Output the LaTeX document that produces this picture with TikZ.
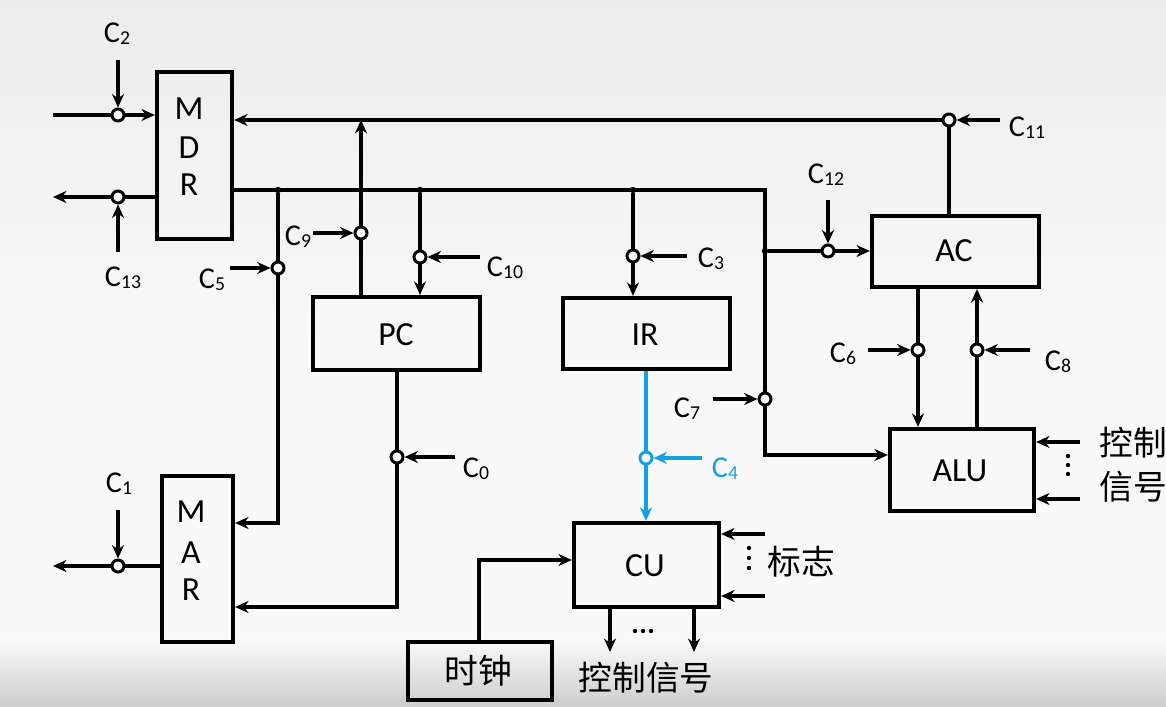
\documentclass[tikz,border=0pt]{standalone}
\usepackage{fontspec}
\setmainfont{Carlito}
\newfontfamily\cjk{Noto Sans CJK SC}
\usetikzlibrary{arrows.meta}
\definecolor{bgtop}{RGB}{236,236,236}
\definecolor{bgmid}{RGB}{249,249,249}
\definecolor{bgbot}{RGB}{205,205,205}
\definecolor{sigblue}{RGB}{20,160,228}
\newcommand\Csub[1]{C\raisebox{-1.5pt}{\fontsize{14}{14}\selectfont #1}}
\tikzset{
  wire/.style={line width=2.6pt},
  arr/.style={wire,-{Stealth[length=9.5pt,width=8.5pt,inset=3pt]}},
  box/.style={draw,line width=3pt,inner sep=0pt},
  sw/.style={circle,draw,fill=white,line width=2.1pt,inner sep=0pt,minimum size=0.3cm},
  jdot/.style={circle,fill,inner sep=0pt,minimum size=0.16cm},
  lbl/.style={inner sep=0pt,font=\fontsize{21.5}{24}\selectfont},
  btxt/.style={inner sep=0pt,font=\fontsize{24}{27}\selectfont},
  cn/.style={inner sep=0pt,font=\cjk\fontsize{24}{28}\selectfont},
  vdot/.style={circle,fill,inner sep=0pt,minimum size=0.11cm},
}
\begin{document}
\begin{tikzpicture}[x=0.025cm,y=-0.025cm]
\useasboundingbox (0,0) rectangle (1166,707);
\shade[top color=bgtop,bottom color=bgmid] (0,0) rectangle (1166,350);
\fill[bgmid] (0,350) rectangle (1166,641);
\shade[top color=bgmid,bottom color=bgbot] (0,640) rectangle (1166,707);

% boxes
\node[box,minimum width=1.875cm,minimum height=4.175cm] (MDR) at (194.5,155.5) {};
\node[box,minimum width=1.775cm,minimum height=4.15cm] (MAR) at (197.5,559) {};
\node[box,minimum width=4.175cm,minimum height=1.825cm] (PC) at (396.5,333.5) {};
\node[box,minimum width=4.175cm,minimum height=1.775cm] (IR) at (646.5,333.5) {};
\node[box,minimum width=4.175cm,minimum height=1.775cm] (AC) at (955.5,251.5) {};
\node[box,minimum width=3.6cm,minimum height=2.05cm] (ALU) at (962,470) {};
\node[box,minimum width=3.625cm,minimum height=2.1cm] (CU) at (646.5,565) {};
\node[box,minimum width=3.6cm,minimum height=1.45cm] (clk) at (480,671) {};

% box texts
\node[btxt] (tM1) at (189,108.5) {M};
\node[btxt] (tD1) at (189,148) {D};
\node[btxt] (tR1) at (189,185) {R};
\node[btxt] (tM2) at (191,512) {M};
\node[btxt] (tA2) at (191,553) {A};
\node[btxt] (tR2) at (191,590) {R};
\node[btxt] (tPC) at (396,335) {PC};
\node[btxt] (tIR) at (645,335) {IR};
\node[btxt] (tAC) at (954,251) {AC};
\node[btxt] (tALU) at (960,471) {ALU};
\node[btxt] (tCU) at (645,566) {CU};
\node[cn] (tclk) at (478,671) {时钟};

% gates
\node[sw] (s2) at (118,115) {};
\node[sw] (s13) at (118,197) {};
\node[sw] (s1) at (118,566) {};
\node[sw] (s9) at (361,233) {};
\node[sw] (s5) at (278,268) {};
\node[sw] (s10) at (420,257) {};
\node[sw] (s3) at (633,256) {};
\node[sw] (s12) at (828,251) {};
\node[sw] (s11) at (949,120) {};
\node[sw] (s7) at (765,399) {};
\node[sw] (s6) at (918,350) {};
\node[sw] (s8) at (977,350) {};
\node[sw] (s0) at (397,457) {};
\node[sw,draw=sigblue] (s4) at (646,458) {};

% junctions
\node[jdot] (j1) at (278,190) {};
\node[jdot] (j2) at (420,190) {};
\node[jdot] (j3) at (633,190) {};
\node[jdot] (j5) at (765,251) {};

% free ends
\coordinate (inL) at (53,115);
\coordinate (outL) at (53,197);
\coordinate (marL) at (53,566);
\coordinate (bc) at (765,190);
\coordinate (aluin) at (765,455);
\coordinate (mc1) at (278,523);
\coordinate (mc2) at (397,607);
\coordinate (ck) at (479,560);
\coordinate (o1) at (610,652);
\coordinate (o2) at (694,652);
\coordinate (f1) at (765,534);
\coordinate (f2) at (765,596);
\coordinate (a1) at (1080,442);
\coordinate (a2) at (1080,499);

\coordinate (k2) at (118,60);
\coordinate (k13) at (118,252);
\coordinate (k1) at (118,510);
\coordinate (k9) at (313,233);
\coordinate (k5) at (230,268);
\coordinate (k10) at (480,257);
\coordinate (k3) at (687,256);
\coordinate (k12) at (828,200);
\coordinate (k11) at (1000,120);
\coordinate (k7) at (713,399);
\coordinate (k6) at (868,350);
\coordinate (k8) at (1030,350);
\coordinate (k0) at (455,457);
\coordinate (k4) at (702,458);

% MDR / MAR external
\draw[wire] (inL) -- (s2);
\draw[arr] (s2) -- (s2 -| MDR.west);
\draw[wire] (MDR.west |- s13) -- (s13);
\draw[arr] (s13) -- (outL);
\draw[wire] (MAR.west |- s1) -- (s1);
\draw[arr] (s1) -- (marL);

% top bus
\draw[arr] (s11) -- (s11 -| MDR.east);
\draw[wire] (AC.north -| s11) -- (s11);
\draw[wire] (PC.north -| s9) -- (s9);
\draw[arr] (s9) -- (s9 |- s11);

% second bus
\draw[wire] (MDR.east |- j1) -- (bc) -- (s7);
\draw[arr] (s7) -- (aluin) -- (ALU.west |- aluin);
\draw[wire] (j1) -- (s5);
\draw[arr] (s5) -- (mc1) -- (MAR.east |- mc1);
\draw[wire] (j2) -- (s10);
\draw[arr] (s10) -- (PC.north -| s10);
\draw[wire] (j3) -- (s3);
\draw[arr] (s3) -- (IR.north -| s3);
\draw[wire] (j5) -- (s12);
\draw[arr] (s12) -- (AC.west |- s12);

% AC <-> ALU
\draw[wire] (AC.south -| s6) -- (s6);
\draw[arr] (s6) -- (ALU.north -| s6);
\draw[wire] (ALU.north -| s8) -- (s8);
\draw[arr] (s8) -- (AC.south -| s8);

% PC -> MAR
\draw[wire] (PC.south -| s0) -- (s0);
\draw[arr] (s0) -- (mc2) -- (MAR.east |- mc2);

% IR -> CU
\draw[wire,sigblue] (IR.south -| s4) -- (s4);
\draw[arr,sigblue] (s4) -- (CU.north -| s4);

% CU
\draw[arr] (clk.north -| ck) -- (ck) -- (CU.west |- ck);
\draw[arr] (CU.south -| o1) -- (o1);
\draw[arr] (CU.south -| o2) -- (o2);
\draw[arr] (f1) -- (CU.east |- f1);
\draw[arr] (f2) -- (CU.east |- f2);
\draw[arr] (a1) -- (ALU.east |- a1);
\draw[arr] (a2) -- (ALU.east |- a2);

% control signals
\draw[arr] (k2) -- (s2);
\draw[arr] (k13) -- (s13);
\draw[arr] (k1) -- (s1);
\draw[arr] (k9) -- (s9);
\draw[arr] (k5) -- (s5);
\draw[arr] (k10) -- (s10);
\draw[arr] (k3) -- (s3);
\draw[arr] (k12) -- (s12);
\draw[arr] (k11) -- (s11);
\draw[arr] (k7) -- (s7);
\draw[arr] (k6) -- (s6);
\draw[arr] (k8) -- (s8);
\draw[arr] (k0) -- (s0);
\draw[arr,sigblue] (k4) -- (s4);

% labels
\node[lbl] (L2) at (117,34) {\Csub{2}};
\node[lbl] (L13) at (123,278) {\Csub{13}};
\node[lbl] (L1) at (119,484) {\Csub{1}};
\node[lbl] (L9) at (298,237) {\Csub{9}};
\node[lbl] (L5) at (212,280) {\Csub{5}};
\node[lbl] (L10) at (505,268) {\Csub{10}};
\node[lbl] (L3) at (711,259) {\Csub{3}};
\node[lbl] (L12) at (826,175) {\Csub{12}};
\node[lbl] (L11) at (1027,128) {\Csub{11}};
\node[lbl] (L6) at (843,354) {\Csub{6}};
\node[lbl] (L8) at (1058,362) {\Csub{8}};
\node[lbl] (L7) at (687,409) {\Csub{7}};
\node[lbl] (L0) at (476,469) {\Csub{0}};
\node[lbl,text=sigblue] (L4) at (725,469) {\Csub{4}};

\node[cn] (flag) at (801,562) {标志};
\node[cn,anchor=west] (ctl1) at (1099,443) {控制};
\node[cn,anchor=west] (ctl2) at (1099,487) {信号};
\node[cn] (ctl) at (646,678) {控制信号};

% ellipsis dots
\foreach \yy in {548,558,568} \node[vdot] at (749,\yy) {};
\foreach \yy in {456,465,474} \node[vdot] at (1068,\yy) {};
\foreach \xx in {635,643,651} \node[vdot] at (\xx,631) {};
\end{tikzpicture}
\end{document}
